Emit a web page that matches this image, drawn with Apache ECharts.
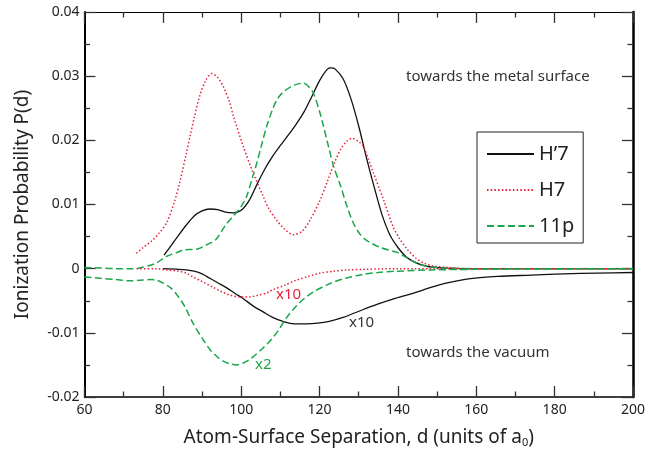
<!DOCTYPE html>
<html>
<head>
<meta charset="utf-8">
<script src="https://cdn.jsdelivr.net/npm/echarts@6/dist/echarts.min.js"></script>
<style>html,body{margin:0;padding:0;background:#fff}#c{width:648px;height:457px}</style>
</head>
<body>
<div id="c"></div>
<script>
// H'7 (solid black), positive part
const hp7PosX = [80.3,82,84,86,88,90,92,94,96,98,100,102,104,106,108,110,112,114,116,118,120,122,123,124,126,128,130,132,134,136,138,140,142,144,146,148,152,160,200];
const hp7PosY = [0.0021,0.0035,0.0052,0.0068,0.0082,0.0090,0.0093,0.0092,0.0088,0.0087,0.0091,0.0106,0.0131,0.0155,0.0175,0.0192,0.0208,0.0225,0.0244,0.0268,0.0293,0.0311,0.0313,0.0311,0.0296,0.0265,0.0222,0.0172,0.0126,0.0083,0.0052,0.0033,0.0019,0.0011,0.0006,0.0003,0.0001,0,0];
// H'7 x10, negative part
const hp7NegX = [80,84,86,88,90,92,94,96.3,98.5,100.4,103,105.5,108,111,113.5,116.5,119.5,122.5,126,131,135,139.5,144,148,152,156.8,161,165.5,174,182.3,191,200];
const hp7NegY = [0,-0.0001,-0.0002,-0.0004,-0.0008,-0.0015,-0.0022,-0.0030,-0.0039,-0.0046,-0.0058,-0.0067,-0.0076,-0.0083,-0.0086,-0.0086,-0.0085,-0.0082,-0.0076,-0.0064,-0.0055,-0.0046,-0.0038,-0.0030,-0.0023,-0.0017,-0.0014,-0.0012,-0.0010,-0.0008,-0.0007,-0.0006];
// H7 (dotted red), positive part
const h7PosX = [73.2,75,77.5,79,81,83,84.3,86,87,88,89.4,91,92.5,94,95.4,97,98,100.5,103,105.6,107,109,111,113.3,115.5,117.6,120,122,124,125.5,127,128.3,130,131.2,132.5,133.7,136.3,138.8,140.5,142.4,144.5,146.5,149,152.7,158,200];
const h7PosY = [0.0024,0.0033,0.0045,0.0055,0.0072,0.0105,0.0134,0.0180,0.0208,0.0235,0.0269,0.0294,0.0304,0.0298,0.0284,0.0260,0.0238,0.0191,0.0150,0.0113,0.0094,0.0076,0.0062,0.0053,0.0058,0.0076,0.0105,0.0136,0.0168,0.0187,0.0199,0.0203,0.0198,0.0190,0.0170,0.0150,0.0108,0.0065,0.0046,0.0030,0.0017,0.0009,0.0004,0.0002,0,0];
// H7 x10, negative part
const h7NegX = [73.3,78,81,84,86,87.7,90,92.8,95,97,99.5,102.1,104.5,106.5,108,111,114,116.7,120,123.6,127,132,140,200];
const h7NegY = [0,0,-0.0002,-0.0004,-0.0007,-0.0013,-0.0020,-0.0029,-0.0036,-0.0041,-0.0044,-0.0044,-0.0041,-0.0038,-0.0033,-0.0026,-0.0018,-0.0013,-0.0007,-0.0004,-0.0002,-0.0001,0,0];
// 11p (dashed green), positive part
const p11PosX = [60,64,68,72.3,74,76.6,78.4,80.9,83.5,85.2,87.6,89,91.1,93.6,96,98,100,101.4,103,104,105.3,106.5,108,109.1,110.5,112.5,114.5,115.9,117,118.4,120,121,122.3,123.6,125.3,127,128.7,130.4,132,135.5,139.9,142,144,146,148.3,152,160,200];
const p11PosY = [0.0002,0.0001,0,0,0.0001,0.0005,0.0009,0.0019,0.0025,0.0029,0.0030,0.0031,0.0037,0.0046,0.0068,0.0082,0.0097,0.0113,0.0145,0.0165,0.0195,0.0222,0.0248,0.0263,0.0274,0.0283,0.0288,0.0289,0.0285,0.0274,0.0245,0.0222,0.0190,0.0159,0.0130,0.0097,0.0070,0.0053,0.0044,0.0033,0.0025,0.0018,0.0011,0.0006,0.0003,0.0001,0,0];
// 11p x2, negative part
const p11NegX = [60,64,68,71.6,74,76.7,78.5,80,82,83.5,85.5,87.7,90,92,94,95.4,97,98.8,100.5,102.1,103.5,105.5,107.3,109.5,111.5,113.5,115.8,118.5,122.3,126,131,135,139.6,148.3,160,200];
const p11NegY = [-0.0013,-0.0015,-0.0017,-0.0019,-0.0018,-0.0017,-0.0018,-0.0022,-0.0030,-0.0040,-0.0058,-0.0085,-0.0108,-0.0126,-0.0138,-0.0144,-0.0148,-0.0150,-0.0147,-0.0142,-0.0135,-0.0124,-0.0113,-0.0096,-0.0077,-0.0062,-0.0048,-0.0036,-0.0024,-0.0016,-0.0009,-0.0006,-0.0004,-0.0002,-0.0001,0];

const legendNames = ['H\u20197','H7','11p'];
const xTicks = {min:60,max:200,interval:20};
const yTicks = {min:-0.02,max:0.04,interval:0.01};

const BLACK = '#111111', RED = '#e8203a', GREEN = '#1aa64a';
const FONT = 'Noto Sans';
const pairs = (xs, ys) => xs.map((x, i) => [x, ys[i]]);

function mkSeries(name, xs, ys, color, width, dash) {
  return {
    name: name, type: 'line', data: pairs(xs, ys), smooth: 0.3, symbol: 'none',
    showSymbol: false, animation: false, silent: true,
    lineStyle: {color: color, width: width, type: dash},
    itemStyle: {color: color}
  };
}

function axisCommon(lineWidth) {
  return {
    axisLine: {show: true, onZero: false, lineStyle: {color: '#000', width: lineWidth}},
    axisTick: {show: true, inside: true, length: 11, lineStyle: {color: '#333', width: 1.3}},
    minorTick: {show: true, splitNumber: 2, length: 5.5, lineStyle: {color: '#333', width: 1.3}},
    splitLine: {show: false}
  };
}

const chart = echarts.init(document.getElementById('c'), null, {renderer: 'canvas'});
chart.setOption({
  backgroundColor: '#fff',
  animation: false,
  textStyle: {fontFamily: FONT},
  grid: {left: 84.5, right: 13, top: 12, bottom: 60},
  xAxis: [
    Object.assign({type: 'value', position: 'bottom', min: xTicks.min, max: xTicks.max, interval: xTicks.interval,
      axisLabel: {fontSize: 14, color: '#222', margin: 6, fontFamily: FONT},
      name: '{t|Atom-Surface Separation, d (units of a}{s|0}{t|)}', nameLocation: 'middle', nameGap: 30,
      nameTextStyle: {rich: {t: {fontSize: 19, color: '#222', fontFamily: FONT}, s: {fontSize: 11, color: '#222', fontFamily: FONT, verticalAlign: 'bottom', padding: [10, 0, 0, 0]}}}
    }, axisCommon(1.6)),
    Object.assign({type: 'value', position: 'top', min: xTicks.min, max: xTicks.max, interval: xTicks.interval,
      axisLabel: {show: false}}, axisCommon(1.2))
  ],
  yAxis: [
    Object.assign({type: 'value', position: 'left', min: yTicks.min, max: yTicks.max, interval: yTicks.interval,
      axisLabel: {fontSize: 14, color: '#222', margin: 5, fontFamily: FONT},
      name: 'Ionization Probability P(d)', nameLocation: 'middle', nameGap: 52,
      nameTextStyle: {fontSize: 19, color: '#222', fontFamily: FONT}
    }, axisCommon(2)),
    Object.assign({type: 'value', position: 'right', min: yTicks.min, max: yTicks.max, interval: yTicks.interval,
      axisLabel: {show: false}}, axisCommon(2.5))
  ],
  legend: {
    orient: 'vertical', left: 477, top: 132,
    data: legendNames,
    backgroundColor: '#fff', borderColor: '#222', borderWidth: 1, borderRadius: 0,
    padding: [12, 9, 7, 9], itemGap: 16, itemWidth: 47, itemHeight: 14,
    itemStyle: {opacity: 0},
    textStyle: {fontSize: 20, color: '#222', fontFamily: FONT, lineHeight: 20},
    selectedMode: false
  },
  series: [
    mkSeries(legendNames[0], hp7PosX, hp7PosY, BLACK, 1.3, 'solid'),
    mkSeries(legendNames[1], h7PosX, h7PosY, RED, 1.5, [1.5, 2.2]),
    mkSeries(legendNames[2], p11PosX, p11PosY, GREEN, 1.5, [7, 3.5]),
    mkSeries('H\u20197 x10', hp7NegX, hp7NegY, BLACK, 1.3, 'solid'),
    mkSeries('H7 x10', h7NegX, h7NegY, RED, 1.5, [1.5, 2.2]),
    mkSeries('11p x2', p11NegX, p11NegY, GREEN, 1.5, [7, 3.5])
  ],
  graphic: [
    {type: 'text', left: 406, top: 69, style: {text: 'towards the metal surface', fontSize: 15, fill: '#333', fontFamily: FONT}},
    {type: 'text', left: 406, top: 345, style: {text: 'towards the vacuum', fontSize: 15, fill: '#333', fontFamily: FONT}},
    {type: 'text', left: 276, top: 287, style: {text: 'x10', fontSize: 15, fill: RED, fontFamily: FONT}},
    {type: 'text', left: 349, top: 315, style: {text: 'x10', fontSize: 15, fill: '#333', fontFamily: FONT}},
    {type: 'text', left: 255, top: 357, style: {text: 'x2', fontSize: 15, fill: '#22a33f', fontFamily: FONT}}
  ]
});
</script>
</body>
</html>
